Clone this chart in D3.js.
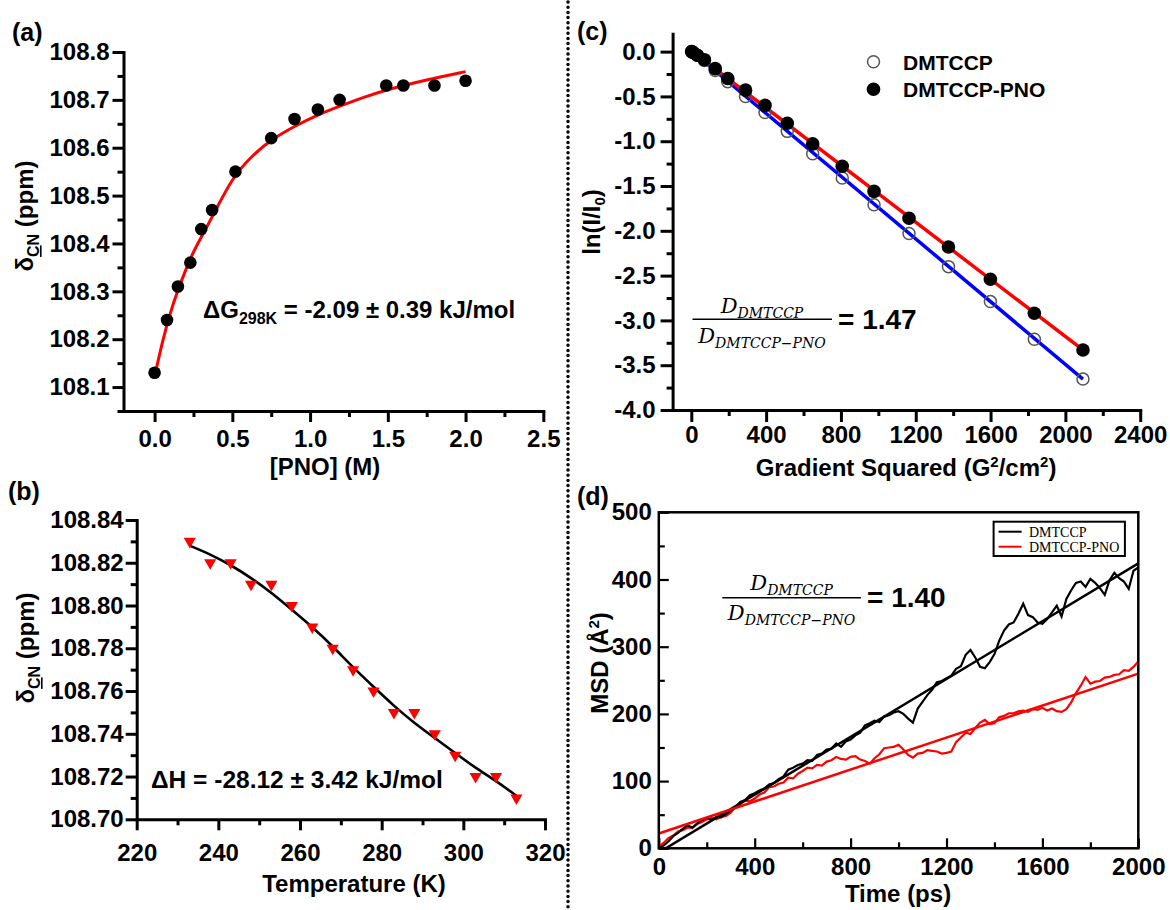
<!DOCTYPE html>
<html>
<head>
<script src="https://d3js.org/d3.v7.min.js"></script>
<style>
    body { margin: 0; background: #fff; }
    text { font-family: "Liberation Sans", Arial, sans-serif; font-weight: bold; fill: #000; }
    .serif { font-family: "DejaVu Serif", "Liberation Serif", serif; font-style: italic; font-weight: normal; }
</style>
</head>
<body>
<svg id="fig" width="1170" height="910"></svg>
<script>
// ---- (a) shift vs [PNO] ----
var pnoConc  = [0, 0.08, 0.15, 0.23, 0.30, 0.37, 0.52, 0.75, 0.90, 1.05, 1.19, 1.49, 1.60, 1.80, 2.00];
var pnoShift = [108.13, 108.24, 108.31, 108.36, 108.43, 108.47, 108.55, 108.62, 108.66, 108.68, 108.70, 108.73, 108.73, 108.73, 108.74];
var pnoFitX  = [0, 0.05, 0.1, 0.15, 0.2, 0.25, 0.3, 0.375, 0.5, 0.625, 0.75, 0.9, 1.05, 1.2, 1.35, 1.5, 1.75, 2.0];
var pnoFitY  = [108.122, 108.195, 108.255, 108.303, 108.345, 108.383, 108.413, 108.458, 108.538, 108.583, 108.617, 108.645, 108.669, 108.688, 108.706, 108.722, 108.742, 108.759];

// ---- (b) shift vs temperature ----
var tempK     = [233, 238, 243, 248, 253, 258, 263, 268, 273, 278, 283, 288, 293, 298, 303, 308, 313];
var tempShift = [108.83, 108.82, 108.82, 108.81, 108.81, 108.80, 108.79, 108.78, 108.77, 108.76, 108.75, 108.75, 108.74, 108.73, 108.72, 108.72, 108.71];
var tempFitY  = [108.828, 108.824, 108.819, 108.813, 108.806, 108.798, 108.790, 108.781, 108.771, 108.762, 108.753, 108.745, 108.738, 108.731, 108.724, 108.718, 108.711];

// ---- (c) DOSY decay ----
var gradSq = [2, 10, 32, 70, 128, 195, 290, 394, 513, 649, 807, 977, 1164, 1375, 1599, 1834, 2094];
var lnFree = [0, -0.01, -0.04, -0.10, -0.21, -0.335, -0.50, -0.68, -0.89, -1.14, -1.41, -1.71, -2.03, -2.40, -2.79, -3.21, -3.655];
var lnPno  = [0, -0.01, -0.04, -0.09, -0.19, -0.30, -0.43, -0.60, -0.80, -1.03, -1.28, -1.56, -1.86, -2.18, -2.54, -2.92, -3.33];
var fitGrad = [0, 2094];
var fitFree = [0.01, -3.655];
var fitPno  = [0.01, -3.33];

// ---- (d) MSD ----
var msdTime = [0, 20, 40, 60, 80, 100, 120, 140, 160, 180, 200, 220, 240, 260, 280, 300, 320, 340, 360, 380,
    400, 420, 440, 460, 480, 500, 520, 540, 560, 580, 600, 620, 640, 660, 680, 700, 720, 740, 760, 780,
    800, 820, 840, 860, 880, 900, 920, 940, 960, 980, 1000, 1020, 1040, 1060, 1080, 1100, 1120, 1140, 1160, 1180,
    1200, 1220, 1240, 1260, 1280, 1300, 1320, 1340, 1360, 1380, 1400, 1420, 1440, 1460, 1480, 1500, 1520, 1540, 1560, 1580,
    1600, 1620, 1640, 1660, 1680, 1700, 1720, 1740, 1760, 1780, 1800, 1820, 1840, 1860, 1880, 1900, 1920, 1940, 1960, 1980, 2000];
var msdFree = [0, 4, 10, 18, 23, 29, 34, 31, 37, 42, 45, 42, 47, 46, 51, 56, 61, 69, 72, 79,
    82, 86, 89, 95, 97, 103, 107, 117, 120, 124, 126, 131, 130, 139, 141, 147, 148, 156, 151, 159,
    162, 168, 172, 183, 186, 190, 188, 196, 198, 202, 204, 200, 193, 187, 208, 218, 228, 236, 247, 249,
    253, 257, 267, 271, 288, 295, 284, 270, 268, 277, 289, 309, 324, 333, 336, 349, 364, 347, 344, 336,
    334, 341, 351, 361, 345, 371, 384, 395, 397, 389, 401, 395, 387, 377, 399, 410, 402, 397, 386, 413, 418];
var msdPno = [2, 8, 15, 19, 25, 27, 31, 30, 36, 39, 43, 45, 43, 47, 48, 53, 62, 66, 71, 70,
    74, 80, 83, 91, 92, 96, 98, 105, 104, 111, 115, 120, 119, 124, 123, 129, 131, 136, 133, 132,
    136, 137, 132, 130, 126, 134, 140, 149, 150, 151, 154, 147, 139, 135, 141, 142, 146, 145, 144, 141,
    142, 144, 158, 165, 172, 170, 179, 187, 191, 185, 186, 195, 197, 201, 201, 204, 205, 203, 207, 206,
    209, 205, 208, 204, 203, 207, 217, 231, 242, 255, 245, 248, 249, 254, 255, 258, 259, 265, 264, 270, 278];
var msdFitFreeX = [29, 2000], msdFitFreeY = [0, 424];
var msdFitPnoX  = [0, 2000],  msdFitPnoY  = [22, 260];

var svg = d3.select("#fig");

function styleAxis(g, size, w) {
    g.attr("font-size", null).attr("font-family", null);
    g.select(".domain").attr("stroke-width", w).attr("stroke-linecap", "square");
    g.selectAll(".tick line").attr("stroke-width", w);
    g.selectAll(".tick text").attr("font-size", size).attr("fill", "#000");
}

function prismAxes(x, y, o) {
    var gx = svg.append("g").attr("transform", "translate(0," + y.range()[0] + ")")
        .call(d3.axisBottom(x).tickValues(o.xMajor).tickFormat(o.xFmt).tickSize(o.tick).tickSizeOuter(0).tickPadding(o.xPad));
    styleAxis(gx, o.font, 3);
    var gxm = svg.append("g").attr("transform", "translate(0," + y.range()[0] + ")")
        .call(d3.axisBottom(x).tickValues(o.xMinor).tickFormat("").tickSize(o.minor).tickSizeOuter(0));
    gxm.select(".domain").remove();
    gxm.selectAll(".tick line").attr("stroke-width", 3);
    var gy = svg.append("g").attr("transform", "translate(" + x.range()[0] + ",0)")
        .call(d3.axisLeft(y).tickValues(o.yMajor).tickFormat(o.yFmt).tickSize(o.tick).tickSizeOuter(0).tickPadding(o.yPad));
    styleAxis(gy, o.font, 3);
    var gym = svg.append("g").attr("transform", "translate(" + x.range()[0] + ",0)")
        .call(d3.axisLeft(y).tickValues(o.yMinor).tickFormat("").tickSize(o.minor).tickSizeOuter(0));
    gym.select(".domain").remove();
    gym.selectAll(".tick line").attr("stroke-width", 3);
}

function text(x, y, s, size, anchor) {
    return svg.append("text").attr("x", x).attr("y", y).attr("font-size", size)
        .attr("text-anchor", anchor || "start").text(s);
}

// divider
svg.append("line").attr("x1", 568).attr("x2", 568).attr("y1", 2).attr("y2", 910)
    .attr("stroke", "#000").attr("stroke-width", 3.5).attr("stroke-linecap", "round")
    .attr("stroke-dasharray", "0,5.2");

// panel labels
text(12, 41, "(a)", 25);
text(8, 500, "(b)", 25);
text(577, 40, "(c)", 25);
text(577, 505, "(d)", 25);

// ================= (a) =================
var xa = d3.scaleLinear().domain([-0.2, 2.5]).range([123.5, 543.3]);
var ya = d3.scaleLinear().domain([108.05, 108.8]).range([411, 52]);
prismAxes(xa, ya, {
    xMajor: [0, 0.5, 1, 1.5, 2, 2.5], xMinor: [0.25, 0.75, 1.25, 1.75, 2.25],
    yMajor: [108.1, 108.2, 108.3, 108.4, 108.5, 108.6, 108.7, 108.8],
    yMinor: [108.05, 108.15, 108.25, 108.35, 108.45, 108.55, 108.65, 108.75],
    xFmt: d => d.toFixed(1), yFmt: d => d.toFixed(1), tick: 11, minor: 6, xPad: 8, yPad: 3, font: 24
});
svg.append("path")
    .attr("d", d3.line().x((d, i) => xa(pnoFitX[i])).y(d => ya(d)).curve(d3.curveBasis)(pnoFitY))
    .attr("fill", "none").attr("stroke", "#ff0000").attr("stroke-width", 3);
svg.append("g").selectAll("circle").data(pnoConc).enter().append("circle")
    .attr("cx", d => xa(d)).attr("cy", (d, i) => ya(pnoShift[i])).attr("r", 6.3).attr("fill", "#000");

var ta = text(203, 318, "ΔG", 24);
ta.append("tspan").attr("font-size", 16).attr("dy", 6).text("298K");
ta.append("tspan").attr("dy", -6).text(" = -2.09 ± 0.39 kJ/mol");

var la = svg.append("text").attr("transform", "translate(33,216) rotate(-90)").attr("text-anchor", "middle").attr("font-size", 24);
la.append("tspan").text("δ");
la.append("tspan").attr("font-size", 16).attr("dy", 6).attr("text-decoration", "underline").text("C");
la.append("tspan").attr("font-size", 16).text("N");
la.append("tspan").attr("dy", -6).text(" (ppm)");
text(325, 475, "[PNO] (M)", 24, "middle");

// ================= (b) =================
var xb = d3.scaleLinear().domain([220, 320]).range([136.7, 545]);
var yb = d3.scaleLinear().domain([108.70, 108.84]).range([819.3, 520]);
prismAxes(xb, yb, {
    xMajor: [220, 240, 260, 280, 300, 320], xMinor: [230, 250, 270, 290, 310],
    yMajor: [108.70, 108.72, 108.74, 108.76, 108.78, 108.80, 108.82, 108.84],
    yMinor: [108.71, 108.73, 108.75, 108.77, 108.79, 108.81, 108.83],
    xFmt: d => d.toFixed(0), yFmt: d => d.toFixed(2), tick: 11, minor: 6, xPad: 14, yPad: 2, font: 24
});
svg.append("path")
    .attr("d", d3.line().x((d, i) => xb(tempK[i])).y(d => yb(d)).curve(d3.curveBasis)(tempFitY))
    .attr("fill", "none").attr("stroke", "#000").attr("stroke-width", 2.6);
svg.append("g").selectAll("path").data(tempK).enter().append("path")
    .attr("transform", (d, i) => "translate(" + xb(d) + "," + yb(tempShift[i]) + ") rotate(180)")
    .attr("d", d3.symbol().type(d3.symbolTriangle).size(64)())
    .attr("fill", "#ff0000");

text(151, 788, "ΔH = -28.12 ± 3.42 kJ/mol", 24.5);
var lb = svg.append("text").attr("transform", "translate(34,648) rotate(-90)").attr("text-anchor", "middle").attr("font-size", 24);
lb.append("tspan").text("δ");
lb.append("tspan").attr("font-size", 16).attr("dy", 6).attr("text-decoration", "underline").text("C");
lb.append("tspan").attr("font-size", 16).text("N");
lb.append("tspan").attr("dy", -6).text(" (ppm)");
text(354, 892, "Temperature (K)", 24, "middle");

// ================= (c) =================
var xc = d3.scaleLinear().domain([-100, 2400]).range([672.6, 1140.2]);
var yc = d3.scaleLinear().domain([-4, 0.2]).range([410, 33.7]);
prismAxes(xc, yc, {
    xMajor: [0, 400, 800, 1200, 1600, 2000, 2400], xMinor: [200, 600, 1000, 1400, 1800, 2200],
    yMajor: [-4, -3.5, -3, -2.5, -2, -1.5, -1, -0.5, 0],
    yMinor: [-3.75, -3.25, -2.75, -2.25, -1.75, -1.25, -0.75, -0.25],
    xFmt: d => d.toFixed(0), yFmt: d => d.toFixed(1), tick: 12, minor: 6, xPad: 4, yPad: 5, font: 24
});
svg.append("path").attr("d", d3.line().x((d, i) => xc(fitGrad[i])).y(d => yc(d))(fitFree))
    .attr("stroke", "#0000ff").attr("stroke-width", 3.5).attr("fill", "none");
svg.append("path").attr("d", d3.line().x((d, i) => xc(fitGrad[i])).y(d => yc(d))(fitPno))
    .attr("stroke", "#ff0000").attr("stroke-width", 3.5).attr("fill", "none");
svg.append("g").selectAll("circle").data(gradSq).enter().append("circle")
    .attr("cx", d => xc(d)).attr("cy", (d, i) => yc(lnFree[i])).attr("r", 6)
    .attr("fill", "none").attr("stroke", "#555").attr("stroke-width", 1.5);
svg.append("g").selectAll("circle").data(gradSq).enter().append("circle")
    .attr("cx", d => xc(d)).attr("cy", (d, i) => yc(lnPno[i])).attr("r", 6.8).attr("fill", "#000");

// legend (c)
svg.append("circle").attr("cx", 873.5).attr("cy", 61.7).attr("r", 6).attr("fill", "none").attr("stroke", "#555").attr("stroke-width", 1.5);
svg.append("circle").attr("cx", 873.5).attr("cy", 89.3).attr("r", 6.8).attr("fill", "#000");
text(903, 69.5, "DMTCCP", 21);
text(903, 97, "DMTCCP-PNO", 21);

function fraction(cx, yNum, yLine, yDen, x1, x2) {
    var n = svg.append("text").attr("class", "serif").attr("x", cx).attr("y", yNum).attr("text-anchor", "middle").attr("font-size", 21);
    n.append("tspan").text("D");
    n.append("tspan").attr("font-size", 14).attr("dy", 5).text("DMTCCP");
    svg.append("line").attr("x1", x1).attr("x2", x2).attr("y1", yLine).attr("y2", yLine).attr("stroke", "#000").attr("stroke-width", 1.5);
    var dn = svg.append("text").attr("class", "serif").attr("x", cx).attr("y", yDen).attr("text-anchor", "middle").attr("font-size", 21);
    dn.append("tspan").text("D");
    dn.append("tspan").attr("font-size", 14).attr("dy", 5).text("DMTCCP−PNO");
}
fraction(762, 313, 319.3, 343, 692.5, 832);
text(838, 329, "= 1.47", 28);

var lc = svg.append("text").attr("transform", "translate(600,222) rotate(-90)").attr("text-anchor", "middle").attr("font-size", 24);
lc.append("tspan").text("ln(I/I");
lc.append("tspan").attr("font-size", 15).attr("dy", 5).text("0");
lc.append("tspan").attr("dy", -5).text(")");
var tc = text(906, 476, "Gradient Squared (G", 24, "middle");
tc.append("tspan").attr("font-size", 15).attr("dy", -9).text("2");
tc.append("tspan").attr("dy", 9).text("/cm");
tc.append("tspan").attr("font-size", 15).attr("dy", -9).text("2");
tc.append("tspan").attr("dy", 9).text(")");

// ================= (d) =================
var xd = d3.scaleLinear().domain([0, 2000]).range([658.8, 1138.3]);
var yd = d3.scaleLinear().domain([0, 500]).range([848.3, 512.3]);
var gxd = svg.append("g").attr("transform", "translate(0,848.3)")
    .call(d3.axisBottom(xd).tickValues([0, 400, 800, 1200, 1600, 2000]).tickFormat(d => d).tickSize(-10).tickSizeOuter(0).tickPadding(10));
styleAxis(gxd, 24, 2.2);
gxd.select(".domain").remove();
var gxdm = svg.append("g").attr("transform", "translate(0,848.3)")
    .call(d3.axisBottom(xd).tickValues([200, 600, 1000, 1400, 1800]).tickFormat("").tickSize(-6).tickSizeOuter(0));
gxdm.select(".domain").remove();
gxdm.selectAll(".tick line").attr("stroke-width", 2.2);
var gyd = svg.append("g").attr("transform", "translate(658.8,0)")
    .call(d3.axisLeft(yd).tickValues([0, 100, 200, 300, 400, 500]).tickFormat(d => d).tickSize(-10).tickSizeOuter(0).tickPadding(7));
styleAxis(gyd, 24, 2.2);
gyd.select(".domain").remove();
var gydm = svg.append("g").attr("transform", "translate(658.8,0)")
    .call(d3.axisLeft(yd).tickValues([50, 150, 250, 350, 450]).tickFormat("").tickSize(-6).tickSizeOuter(0));
gydm.select(".domain").remove();
gydm.selectAll(".tick line").attr("stroke-width", 2.2);

svg.append("defs").append("clipPath").attr("id", "clipd").append("rect")
    .attr("x", 658.8).attr("y", 512.3).attr("width", 479.5).attr("height", 336);
var plotd = svg.append("g").attr("clip-path", "url(#clipd)");
var lineD = d3.line().x((d, i) => xd(msdTime[i])).y(d => yd(d));
plotd.append("path").attr("d", lineD(msdPno)).attr("fill", "none").attr("stroke", "#ff0000").attr("stroke-width", 2.2);
plotd.append("path").attr("d", lineD(msdFree)).attr("fill", "none").attr("stroke", "#000").attr("stroke-width", 2.2);
plotd.append("path").attr("d", d3.line().x((d, i) => xd(msdFitFreeX[i])).y(d => yd(d))(msdFitFreeY))
    .attr("fill", "none").attr("stroke", "#000").attr("stroke-width", 2.5);
plotd.append("path").attr("d", d3.line().x((d, i) => xd(msdFitPnoX[i])).y(d => yd(d))(msdFitPnoY))
    .attr("fill", "none").attr("stroke", "#ff0000").attr("stroke-width", 2.5);
svg.append("rect").attr("x", 658.8).attr("y", 512.3).attr("width", 479.5).attr("height", 336)
    .attr("fill", "none").attr("stroke", "#000").attr("stroke-width", 2.5);

// legend (d)
svg.append("rect").attr("x", 993.6).attr("y", 521.7).attr("width", 131.3).attr("height", 34.3)
    .attr("fill", "#fff").attr("stroke", "#000").attr("stroke-width", 2);
svg.append("line").attr("x1", 998.6).attr("x2", 1021.6).attr("y1", 531.7).attr("y2", 531.7).attr("stroke", "#000").attr("stroke-width", 2);
svg.append("line").attr("x1", 998.6).attr("x2", 1021.6).attr("y1", 546.7).attr("y2", 546.7).attr("stroke", "#ff0000").attr("stroke-width", 2);
svg.append("text").attr("x", 1029).attr("y", 536.5).attr("font-size", 14)
    .style("font-family", "'Liberation Serif', serif").style("font-weight", "normal").text("DMTCCP");
svg.append("text").attr("x", 1029).attr("y", 551.5).attr("font-size", 14)
    .style("font-family", "'Liberation Serif', serif").style("font-weight", "normal").text("DMTCCP-PNO");

fraction(791.6, 590, 597.7, 620, 722.3, 860.9);
text(867, 607, "= 1.40", 28);

var ld = svg.append("text").attr("transform", "translate(608,663) rotate(-90)").attr("text-anchor", "middle").attr("font-size", 24);
ld.append("tspan").text("MSD (Å");
ld.append("tspan").attr("font-size", 15).attr("dy", -9).text("2");
ld.append("tspan").attr("dy", 9).text(")");
text(898, 902, "Time (ps)", 24, "middle");
</script>
</body>
</html>
